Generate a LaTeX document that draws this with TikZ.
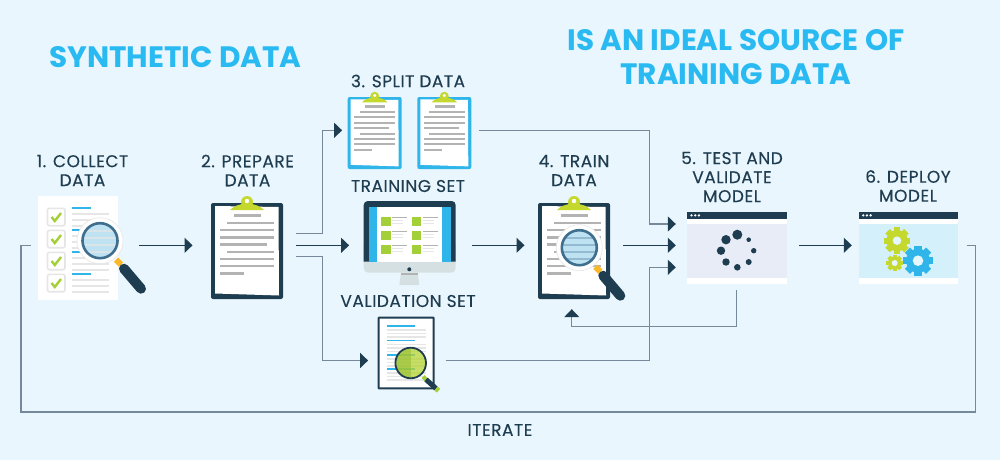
\documentclass[tikz,border=0pt]{standalone}
\usepackage{fontspec}
\setmainfont{Poppins}[LetterSpace=3,FakeBold=0.25]
\newfontfamily\headfont{Poppins}
\usepackage{tikz}
\usetikzlibrary{arrows.meta}

\definecolor{bgblue}{HTML}{EAF6FE}
\definecolor{darkblue}{HTML}{1F3D50}
\definecolor{linegray}{HTML}{76899A}
\definecolor{skyblue}{HTML}{2ABAF2}
\definecolor{barblue}{HTML}{2FB5EA}
\definecolor{lime}{HTML}{C4D82E}
\definecolor{leaf}{HTML}{A3D039}
\definecolor{amber}{HTML}{FBB829}
\definecolor{textgray}{HTML}{B3B3B3}
\definecolor{palegray}{HTML}{E6E6E6}
\definecolor{lensblue}{HTML}{BFE2F3}
\definecolor{ringblue}{HTML}{3F6F8E}
\definecolor{chingray}{HTML}{D5E0E2}
\definecolor{panegray}{HTML}{E8ECF7}
\definecolor{paneblue}{HTML}{D4F0FB}

% x, y, scale, colour of the board
\newcommand{\clipboard}[4]{
\begin{scope}[shift={(#1,#2)},scale=#3]
\fill[#4,rounded corners=2pt] (-36,-48) rectangle (36,48);
\fill[white] (-32,-45)--(31.5,-44)--(32,44.5)--(-32,42.5)--cycle;
\fill[lime] (0,-49) circle (6);
\fill[lime] (-17,-41)..controls (-12,-46) and (-8,-46)..(-5,-47)--(5,-47)
  ..controls (8,-46) and (12,-46)..(17,-41)--cycle;
\fill[white] (0,-50) circle (2.2);
\fill[textgray] (-13,-37.5) rectangle (13.7,-34);
\fill[textgray] (-20,-29.5) rectangle (27,-27);
\fill[textgray] (-27,-22.2) rectangle (27,-19.7);
\fill[textgray] (-27,-15) rectangle (27,-12.5);
\fill[textgray] (-27,-8) rectangle (19.7,-5.5);
\fill[textgray] (-20,-0.5) rectangle (27,2);
\fill[textgray] (-27,6.8) rectangle (27,9.3);
\fill[textgray] (-27,13.8) rectangle (27,16.3);
\fill[textgray] (-27,21) rectangle (-3,23.5);
\end{scope}
}

% x, y, colour of the stripes
\newcommand{\lens}[3]{
\begin{scope}[shift={(#1,#2)}]
\fill[white,draw=palegray,line width=0.6pt] (0,0) circle (23);
\fill[lensblue] (0,0) circle (18);
\begin{scope}
\clip (0,0) circle (18);
\foreach \s in {-11,-4,3,10}
  \fill[#3] (-18,\s) rectangle (18,\s+2.5);
\end{scope}
\draw[ringblue,line width=2.6pt] (0,0) circle (17.5);
\draw[amber,line width=6pt] (16,19)--(21,24);
\draw[darkblue,line width=10pt,line cap=round] (24,28)--(41,48);
\end{scope}
}

% x, y, radius, hole radius, colour
\newcommand{\gear}[5]{
\fill[#5] (#1,#2) circle (0.8*#3);
\foreach \a in {0,45,90,135}
  \fill[#5,rotate around={\a:(#1,#2)}] (#1-0.24*#3,#2-#3) rectangle (#1+0.24*#3,#2+#3);
\fill[paneblue!60!white] (#1,#2) circle (#4);
}

% x of the left edge, colour of the pane
\newcommand{\browser}[2]{
\fill[white] (#1,212) rectangle (#1+99.5,283.5);
\fill[darkblue] (#1,212) rectangle (#1+99.5,219);
\foreach \d in {4.5,8.2,11.9}
  \fill[white] (#1+\d,215.4) circle (1.3);
\fill[#2] (#1,224) rectangle (#1+99.5,278);
}

\begin{document}
\begin{tikzpicture}[x=1pt,y=-1pt,
  heading/.style={text=skyblue,font=\headfont\fontsize{29.5}{34}\selectfont\bfseries,align=center,inner sep=0pt},
  caption/.style={text=darkblue,font=\fontsize{17}{19}\selectfont,align=center,inner sep=0pt},
  iconbox/.style={inner sep=0pt,minimum height=#1},
  iconbox/.default=104pt,
  flow/.style={darkblue,line width=1pt,-{Triangle[length=8pt,width=15pt,color=darkblue]}},
  flowgray/.style={linegray,line width=1.3pt,-{Triangle[length=8pt,width=15pt,color=darkblue]}},
  loopline/.style={linegray,line width=1.3pt}]

\useasboundingbox (0,0) rectangle (1000,460);
\fill[bgblue] (0,0) rectangle (1000,460);

\node [heading] (title) at (175.5,57) {SYNTHETIC DATA};
\node [heading] (subtitle) at (736,57) {IS AN IDEAL SOURCE OF\\TRAINING DATA};

\node [caption] (lblcollect) at (82.5,170.5) {1. COLLECT\\DATA};
\node [caption] (lblprepare) at (247.5,170.5) {2. PREPARE\\DATA};
\node [caption] (lblsplit) at (408,81) {3. SPLIT DATA};
\node [caption] (lbltraining) at (408,186) {TRAINING SET};
\node [caption] (lbltrain) at (574,170.5) {4. TRAIN\\DATA};
\node [caption] (lbltest) at (732,177) {5. TEST AND\\VALIDATE\\MODEL};
\node [caption] (lbldeploy) at (908,186) {6. DEPLOY\\MODEL};
\node [caption] (lblvalidation) at (408,301) {VALIDATION SET};
\node [caption] (lbliterate) at (500,430) {ITERATE};

% collect
\fill[white] (38,196) rectangle (118,300);
\foreach \y in {217,239,261,283} {
  \fill[white,draw=palegray,line width=1.6pt,rounded corners=2pt] (47.5,\y-8.7) rectangle (65,\y+8.7);
  \draw[leaf,line width=2.4pt] (51.5,\y)--(54.8,\y+4)--(61,\y-4);
  \fill[barblue] (72,\y-10) rectangle (90.7,\y-8);
  \fill[palegray] (72,\y-4.2) rectangle (109,\y-2);
  \fill[palegray] (72,\y+1.8) rectangle (109,\y+4);
  \fill[palegray] (72,\y+7.8) rectangle (109,\y+10);
}
\lens{100}{240.7}{palegray!70!lensblue}

% prepare, split, train
\clipboard{247}{251}{1}{darkblue}
\clipboard{374.7}{133}{0.75}{barblue}
\clipboard{444.3}{133}{0.75}{barblue}
\clipboard{574}{251}{1}{darkblue}
\lens{579.3}{247.7}{ringblue!35!lensblue}

% training set
\fill[chingray,rounded corners=4.5pt] (363.7,240) rectangle (455.7,272.7);
\fill[darkblue] (363.7,261.7)[rounded corners=4pt]--(363.7,201)--(455.7,201)[sharp corners]--(455.7,261.7)--cycle;
\fill[chingray] (401,272.7)--(417.7,272.7)--(419.3,285)--(399.3,285)--cycle;
\fill[textgray] (401,272.7) rectangle (417.7,275);
\fill[darkblue] (409.3,269.3) circle (2);
\fill[barblue] (368.7,206.7) rectangle (450.7,261.7);
\fill[white] (376.7,206.7) rectangle (442.3,261.7);
\foreach \y in {217.3,231.3,245.3} {
  \foreach \x in {381.3,412} {
    \fill[leaf] (\x,\y) rectangle (\x+9.4,\y+8.7);
    \fill[textgray] (\x+10.7,\y) rectangle (\x+26,\y+0.9);
    \fill[palegray] (\x+10.7,\y+3) rectangle (\x+22,\y+4);
    \fill[palegray] (\x+10.7,\y+6) rectangle (\x+22,\y+7);
  }
}

% validation set
\fill[white,draw=darkblue,line width=2pt,rounded corners=0.5pt] (378.7,317.7) rectangle (433.7,388.3);
\foreach \y in {326,340.5,355,369} {
  \fill[barblue] (386.7,\y-0.8) rectangle (414.7,\y+0.8);
  \foreach \s in {4,7.5,11}
    \fill[palegray] (386.7,\y+\s-0.9) rectangle (426,\y+\s+0.9);
}
\fill[lime!55!leaf,opacity=0.75] (410.7,363) circle (15.3);
\begin{scope}
\clip (410.7,363) circle (15.3);
\fill[leaf!90!black,opacity=0.55] (395,347) rectangle (410.5,379);
\end{scope}
\draw[darkblue,line width=1.8pt] (410.7,363) circle (15.3);
\draw[leaf,line width=4pt] (423,376.5)--(426,379.5);
\draw[darkblue,line width=5pt] (426,379.5)--(436,388.5);
\draw[leaf,line width=5pt] (436,388.5)--(438.5,390.7);

% test
\browser{687}{panegray}
\fill[darkblue] (737.3,234.7) circle (5);
\fill[darkblue] (726,239.7) circle (4.7);
\fill[darkblue] (721,250.7) circle (4.2);
\fill[darkblue] (726,262) circle (3.7);
\fill[darkblue] (737.3,267.3) circle (3.3);
\fill[darkblue] (748.7,262) circle (3);
\fill[darkblue] (753.7,250.7) circle (2.7);
\fill[darkblue] (748.7,239.7) circle (2.3);

% deploy
\browser{858.7}{paneblue}
\gear{897}{240.7}{13.3}{4.3}{lime}
\gear{894.7}{263}{8.3}{3}{lime}
\gear{918}{260.7}{15}{5.3}{barblue}

\node [iconbox] (collect) at (85,245.3) [minimum width=108pt] {};
\node [iconbox] (prepare) at (244.4,245.3) [minimum width=103.3pt] {};
\node [iconbox=75pt] (split) at (410.65,130.3) [minimum width=136.7pt] {};
\node [iconbox] (training) at (410.5,245.3) [minimum width=122.4pt] {};
\node [iconbox=127.4pt] (train) at (573.85,245.3) [minimum width=98.3pt] {};
\node [iconbox=74pt] (validation) at (406.8,360.5) [minimum width=77pt] {};
\node [iconbox=89.4pt] (test) at (737.5,245.3) [minimum width=123pt] {};
\node [iconbox] (deploy) at (909.35,245.3) [minimum width=114.7pt] {};

\coordinate (splitbend) at (322.7,130.3);
\coordinate (validbend) at (322.7,360.5);
\coordinate (upperbend) at (649.3,224);
\coordinate (lowerbend) at (649.3,267.3);
\coordinate (feedbend) at (736.5,326.7);
\coordinate (loopright) at (975.3,412);
\coordinate (loopleft) at (21,412);

\draw[flow] (collect.east)--(prepare.west);
\draw[flow] (prepare.east)--(training.west);
\draw[flow] (training.east)--(train.west);
\draw[flow] (train.east)--(test.west);
\draw[flow] (test.east)--(deploy.west);

\draw[flowgray] ([yshift=11.6pt]prepare.east)-|(splitbend)--(split.west);
\draw[flowgray] ([yshift=-11.4pt]prepare.east)-|(validbend)--(validation.west);
\draw[flowgray] (split.east)-|(upperbend)--([yshift=21.3pt]test.west);
\draw[flowgray] (validation.east)-|(lowerbend)--([yshift=-22pt]test.west);
\draw[flowgray] ([xshift=-1pt]test.south)--(feedbend)-|([xshift=-2.1pt]train.south);
\draw[loopline] (deploy.east)-|(loopright)--(loopleft)|-(collect.west);

\end{tikzpicture}
\end{document}
